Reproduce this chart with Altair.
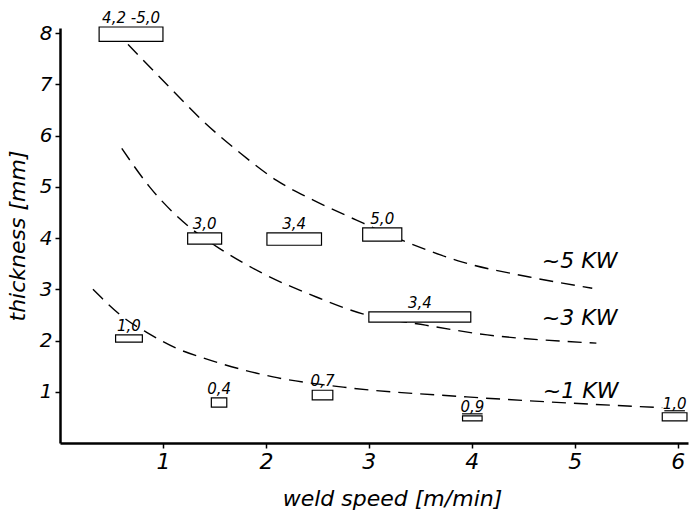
import altair as alt
import pandas as pd

# ---- data ----
box_labels = ["4,2 -5,0", "3,0", "3,4", "5,0", "3,4", "1,0", "0,4", "0,7", "0,9", "1,0"]
box_x0 = [0.38, 1.24, 2.01, 2.94, 3.00, 0.54, 1.47, 2.45, 3.91, 5.85]
box_x1 = [1.00, 1.57, 2.54, 3.32, 3.99, 0.80, 1.62, 2.65, 4.10, 6.09]
box_y0 = [7.84, 3.88, 3.86, 3.94, 2.36, 1.97, 0.70, 0.84, 0.43, 0.43]
box_y1 = [8.12, 4.10, 4.10, 4.20, 2.56, 2.11, 0.88, 1.03, 0.53, 0.59]
box_underlined = [False, False, False, False, False, False, False, False, True, True]

kw5_x = [0.66, 1.07, 1.38, 1.75, 2.10, 2.46, 2.88, 3.37, 3.91, 4.56, 5.17]
kw5_y = [7.78, 6.93, 6.30, 5.66, 5.13, 4.74, 4.35, 3.92, 3.53, 3.24, 3.02]
kw3_x = [0.60, 0.87, 1.26, 1.57, 1.97, 2.49, 2.94, 3.55, 4.15, 4.85, 5.21]
kw3_y = [5.75, 5.00, 4.21, 3.77, 3.31, 2.85, 2.52, 2.30, 2.11, 1.99, 1.95]
kw1_x = [0.32, 0.65, 0.85, 1.13, 1.39, 1.58, 2.07, 2.75, 3.95, 4.76, 5.85]
kw1_y = [3.00, 2.40, 2.15, 1.85, 1.66, 1.54, 1.29, 1.09, 0.90, 0.80, 0.69]

curve_labels = ["~5 KW", "~3 KW", "~1 KW"]
curve_label_x = [4.68, 4.68, 4.69]
curve_label_y = [3.41, 2.30, 0.88]

x_ticks = [1, 2, 3, 4, 5, 6]
y_ticks = [1, 2, 3, 4, 5, 6, 7, 8]

FONT = "DejaVu Sans"

# ---- tables ----
boxes = pd.DataFrame({
    "label": box_labels, "x0": box_x0, "x1": box_x1,
    "y0": box_y0, "y1": box_y1, "ul": box_underlined,
})
boxes["xc"] = (boxes["x0"] + boxes["x1"]) / 2

curves = pd.concat([
    pd.DataFrame({"series": "5 KW", "x": kw5_x, "y": kw5_y}),
    pd.DataFrame({"series": "3 KW", "x": kw3_x, "y": kw3_y}),
    pd.DataFrame({"series": "1 KW", "x": kw1_x, "y": kw1_y}),
], ignore_index=True)

clabels = pd.DataFrame({"label": curve_labels, "x": curve_label_x, "y": curve_label_y})

xs = alt.Scale(domain=[0, 6.1], nice=False, zero=False)
ys = alt.Scale(domain=[0, 8.1], nice=False, zero=False)

x_axis = alt.Axis(
    values=x_ticks, format="d", title="weld speed [m/min]", labelFontSize=22,
    titleX=332, titleY=62, titleBaseline="alphabetic", titleAlign="center",
    labelPadding=3,
)
y_axis = alt.Axis(
    values=y_ticks, format="d", title="thickness [mm]", labelFontSize=20,
    titlePadding=10, labelPadding=3,
)

lines = alt.Chart(curves).mark_line(
    color="black", strokeWidth=1.4, strokeDash=[14, 8], interpolate="monotone"
).encode(
    x=alt.X("x:Q", scale=xs, axis=x_axis),
    y=alt.Y("y:Q", scale=ys, axis=y_axis),
    detail="series:N",
    order="x:Q",
)

rects = alt.Chart(boxes).mark_rect(
    fill="white", stroke="black", strokeWidth=1.2
).encode(
    x=alt.X("x0:Q", scale=xs), x2="x1:Q",
    y=alt.Y("y0:Q", scale=ys), y2="y1:Q",
)

rect_text = alt.Chart(boxes).mark_text(
    font=FONT, fontStyle="italic", fontSize=15, baseline="alphabetic",
    align="center", dy=-4, color="black",
).encode(
    x=alt.X("xc:Q", scale=xs), y=alt.Y("y1:Q", scale=ys), text="label:N",
)

underline = alt.Chart(boxes).transform_filter(
    alt.datum.ul == True
).transform_calculate(
    ua="datum.xc - 0.1", ub="datum.xc + 0.1"
).mark_rule(color="black", strokeWidth=1.2, yOffset=-2).encode(
    x=alt.X("ua:Q", scale=xs), x2="ub:Q", y=alt.Y("y1:Q", scale=ys),
)

kw_text = alt.Chart(clabels).mark_text(
    font=FONT, fontStyle="italic", fontSize=22, baseline="alphabetic",
    align="left", color="black",
).encode(
    x=alt.X("x:Q", scale=xs), y=alt.Y("y:Q", scale=ys), text="label:N",
)

chart = alt.layer(lines, rects, rect_text, underline, kw_text).properties(
    width=628, height=415,
    background="white",
    autosize=alt.AutoSizeParams(type="none"),
    padding={"left": 60, "top": 28, "right": 1, "bottom": 68},
).configure_view(stroke=None).configure_axis(
    grid=False, domainColor="black", domainWidth=2.5, tickColor="black",
    tickWidth=1.5, tickSize=5, labelColor="black", titleColor="black",
    labelFont=FONT, titleFont=FONT, labelFontStyle="italic",
    titleFontStyle="italic", titleFontWeight="normal", titleFontSize=22,
    labelFontWeight="normal",
)

chart.save("out.html", embed_options={"renderer": "svg", "actions": False})
